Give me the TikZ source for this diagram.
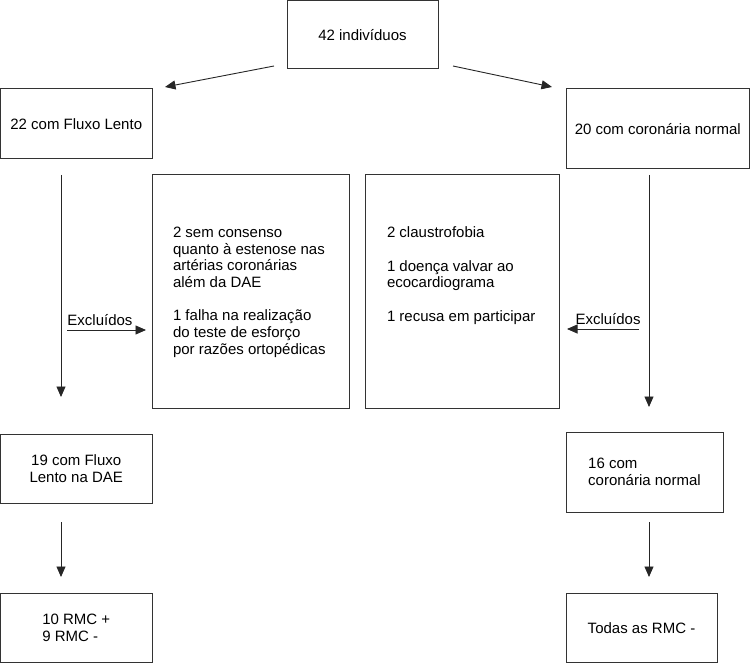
\documentclass[tikz,border=0pt]{standalone}
\usepackage{fontspec}
\setmainfont{Liberation Sans}
\usetikzlibrary{arrows.meta,positioning,calc}

\begin{document}
\begin{tikzpicture}[
  x=1pt, y=-1pt,
  box/.style={draw=black!80, line width=1pt, outer sep=0pt, inner sep=0pt, align=center, font=\fontsize{15}{16.7}\selectfont},
  lbl/.style={font=\fontsize{15}{16.7}\selectfont, inner sep=0pt},
  arr/.style={->, draw=black!85, line width=0.9pt},
  >={Triangle[length=10.5pt,width=9pt]}
]
\useasboundingbox (0,0) rectangle (750,663);

% top
\node[box, minimum width=151pt, minimum height=68.5pt] (total) at (362.5,34.75) {42 indivíduos};
\node[box, minimum width=151.5pt, minimum height=70pt] (lento) at (76.25,124) {22 com Fluxo Lento};
\node[box, minimum width=183.5pt, minimum height=80pt] (normal) at (657.75,129) {20 com coronária normal};

% excluded
\node[box, inner xsep=21pt] (exlento) at (250.5,291.5) {\parbox[c][233pt][t]{155pt}{\raggedright\vspace*{52pt}%
  2 sem consenso\\ quanto à estenose nas\\ artérias coronárias\\ além da DAE\\[16.7pt]
  1 falha na realização\\ do teste de esforço\\ por razões ortopédicas}};
\node[box, inner xsep=22pt] (exnormal) at (462,291.5) {\parbox[c][233pt][t]{150pt}{\raggedright\vspace*{52pt}%
  2 claustrofobia\\[16.7pt]
  1 doença valvar ao\\ ecocardiograma\\[16.7pt]
  1 recusa em participar}};

% bottom
\node[box, minimum width=151.5pt, minimum height=69pt] (lentodae) at (76.25,468.5) {19 com Fluxo\\Lento na DAE};
\node[box, align=left, minimum width=157pt, minimum height=80pt] (normal16) at (644.5,472) {16 com\\coronária normal};
\node[box, align=left, minimum width=151.5pt, minimum height=69.5pt] (rmclento) at (76.25,627.75) {10 RMC +\\9 RMC -};
\node[box, minimum width=151pt, minimum height=69.5pt] (rmcnormal) at (641.5,627.75) {Todas as RMC -};

% arrows
\coordinate (lcol) at (61,0);
\coordinate (rcol) at (649,0);
\draw[arr] ([shift={(-13,-3)}]total.south west) -- ([shift={(13,-2)}]lento.north east);
\draw[arr] ([shift={(15,-3)}]total.south east) -- ([shift={(-14,-2)}]normal.north west);

\draw[arr, shorten <=16pt, shorten >=37pt] (lento.south -| lcol) -- (lentodae.north -| lcol);
\draw[arr, shorten <=6pt, shorten >=25pt] (normal.south -| rcol) -- (normal16.north -| rcol);
\draw[arr, shorten <=19pt, shorten >=16pt] (lentodae.south -| lcol) -- (rmclento.north -| lcol);
\draw[arr, shorten <=10pt, shorten >=16pt] (normal16.south -| rcol) -- (rmcnormal.north -| rcol);

\coordinate (exl) at (67,330);
\coordinate (exr) at (639,329);
\draw[arr, shorten >=6pt] (exl) -- (exl -| exlento.west)
  node[lbl, pos=0, anchor=base west, yshift=4.6pt] {Excluídos};
\draw[arr, shorten >=8pt] (exr) -- (exr -| exnormal.east)
  node[lbl, pos=0, anchor=base east, xshift=2pt, yshift=4.6pt] {Excluídos};
\end{tikzpicture}
\end{document}
